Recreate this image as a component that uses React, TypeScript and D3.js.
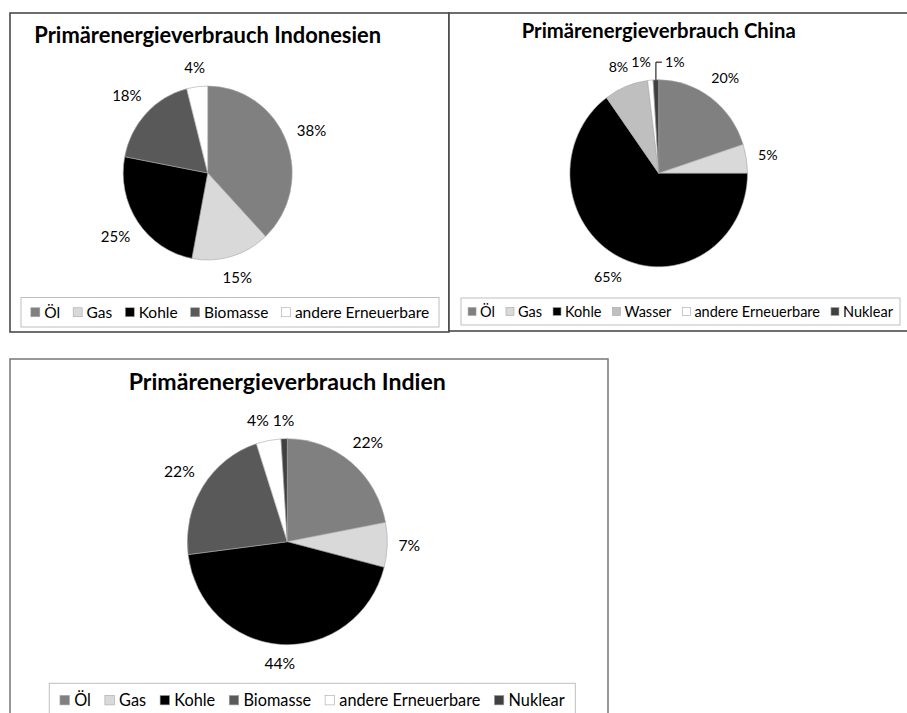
import React, { useEffect, useRef } from 'react'
import * as d3 from 'd3'

// --- data ---
const indonesiaCategories = ['Öl', 'Gas', 'Kohle', 'Biomasse', 'andere Erneuerbare']
const indonesiaValues = [38, 15, 25, 18, 4]

const chinaCategories = ['Öl', 'Gas', 'Kohle', 'Wasser', 'andere Erneuerbare', 'Nuklear']
const chinaValues = [20, 5, 65, 8, 1, 1]

const indiaCategories = ['Öl', 'Gas', 'Kohle', 'Biomasse', 'andere Erneuerbare', 'Nuklear']
const indiaValues = [22, 7, 44, 22, 4, 1]

const sliceColors: Record<string, string> = {
  'Öl': '#808080',
  Gas: '#d9d9d9',
  Kohle: '#000000',
  Biomasse: '#595959',
  Wasser: '#bfbfbf',
  'andere Erneuerbare': '#ffffff',
  Nuklear: '#404040',
}

const FONT = "Lato, 'Open Sans', sans-serif"
const LABEL_GAP = 11

// layout of each chart (boxes are [x0, y0, x1, y1])
const charts = [
  {
    title: 'Primärenergieverbrauch Indonesien',
    categories: indonesiaCategories,
    values: indonesiaValues,
    box: [10, 13, 449, 332],
    border: '#4a4a4a',
    cx: 207.7, cy: 173, rx: 84.5, ry: 87,
    titleY: 42.5, titleSize: 21.9,
    labelSize: 15,
    legend: [21, 297.5, 439, 327],
    legendSize: 15.5, swatch: 9, swatchGap: 4.4, itemGap: 13,
  },
  {
    title: 'Primärenergieverbrauch China',
    categories: chinaCategories,
    values: chinaValues,
    box: [449, 13, 912, 331],
    border: '#4a4a4a',
    cx: 658.7, cy: 173.3, rx: 88.8, ry: 93.5,
    titleY: 38.3, titleSize: 20.3,
    labelSize: 14.2,
    legend: [461, 298, 900, 325],
    legendSize: 14.5, swatch: 8, swatchGap: 4, itemGap: 11,
  },
  {
    title: 'Primärenergieverbrauch Indien',
    categories: indiaCategories,
    values: indiaValues,
    box: [10, 359, 608, 725],
    border: '#7f7f7f',
    cx: 287.3, cy: 541.7, rx: 100, ry: 103,
    titleY: 390, titleSize: 23.1,
    labelSize: 15.7,
    legend: [49.3, 683.3, 575.3, 717],
    legendSize: 16.3, swatch: 9.5, swatchGap: 4.7, itemGap: 14,
  },
]

function drawChart(svg: any, c: any) {
  const g = svg.append('g')
  const [x0, y0, x1, y1] = c.box

  g.append('rect')
    .attr('x', x0).attr('y', y0)
    .attr('width', x1 - x0).attr('height', y1 - y0)
    .attr('fill', '#fff')
    .attr('stroke', c.border)
    .attr('stroke-width', 1.6)

  g.append('text')
    .attr('x', c.cx).attr('y', c.titleY)
    .attr('text-anchor', 'middle')
    .attr('font-family', FONT)
    .attr('font-weight', 700)
    .attr('font-size', c.titleSize)
    .attr('fill', '#000')
    .text(c.title)

  const data = c.categories.map((name: string, i: number) => ({ name, value: c.values[i] }))
  const arcs = d3.pie<any>().sort(null).value((d: any) => d.value)(data)
  const arc = d3.arc<any>().innerRadius(0).outerRadius(c.rx)

  // pie is slightly taller than wide in the original, so squash the circle
  g.append('g')
    .attr('transform', `translate(${c.cx},${c.cy}) scale(1,${c.ry / c.rx})`)
    .selectAll('path')
    .data(arcs)
    .join('path')
    .attr('d', arc)
    .attr('fill', (d: any) => sliceColors[d.data.name])
    .attr('stroke', '#a6a6a6')
    .attr('stroke-width', 0.6)
    .attr('vector-effect', 'non-scaling-stroke')

  // data labels, outside end
  const placed: { x: number; y: number; w: number; node: any }[] = []
  arcs.forEach((a: any) => {
    const t = (a.startAngle + a.endAngle) / 2
    const ex = Math.sin(t)
    const ey = -Math.cos(t)
    const bx = c.cx + c.rx * ex
    const by = c.cy + c.ry * ey

    const txt = g.append('text')
      .attr('font-family', FONT)
      .attr('font-size', c.labelSize)
      .attr('text-anchor', 'middle')
      .attr('dy', '0.35em')
      .attr('fill', '#000')
      .text(`${a.data.value}%`)
    const w = (txt.node() as SVGTextElement).getComputedTextLength()
    const h = c.labelSize * 0.9
    const ext = Math.abs(ex) * w / 2 + Math.abs(ey) * h / 2
    let lx = bx + (LABEL_GAP + ext) * ex
    const ly = by + (LABEL_GAP + ext) * ey

    const prev = placed[placed.length - 1]
    let moved = false
    if (prev && Math.abs(ly - prev.y) < h) {
      const need = (w + prev.w) / 2 + 4
      const have = lx - prev.x
      if (have < (w + prev.w) / 4) {
        // heavy overlap: label goes right of the slice with a leader line,
        // the previous label makes room on the left
        const maxPrev = bx - 5 - prev.w / 2
        if (prev.x > maxPrev) {
          prev.x = maxPrev
          prev.node.attr('x', prev.x)
        }
        lx = bx + 9 + w / 2
        moved = true
      } else if (have < need) {
        // small overlap: nudge the previous label to the left
        prev.x -= need - have
        prev.node.attr('x', prev.x)
      }
    }
    txt.attr('x', lx).attr('y', ly)
    placed.push({ x: lx, y: ly, w, node: txt })

    if (moved) {
      g.append('path')
        .attr('d', `M${bx},${by}V${ly}H${lx - w / 2 - 3}`)
        .attr('fill', 'none')
        .attr('stroke', '#000')
        .attr('stroke-width', 1)
    }
  })

  // legend
  const [lx0, ly0, lx1, ly1] = c.legend
  g.append('rect')
    .attr('x', lx0).attr('y', ly0)
    .attr('width', lx1 - lx0).attr('height', ly1 - ly0)
    .attr('fill', '#fff')
    .attr('stroke', '#bfbfbf')
    .attr('stroke-width', 1)

  const lmid = (ly0 + ly1) / 2
  const items = c.categories.map((name: string) => {
    const t = g.append('text')
      .attr('font-family', FONT)
      .attr('font-size', c.legendSize)
      .attr('dy', '0.35em')
      .attr('fill', '#000')
      .text(name)
    return { name, t, w: (t.node() as SVGTextElement).getComputedTextLength() }
  })
  const total = d3.sum(items, (d: any) => c.swatch + c.swatchGap + d.w) + c.itemGap * (items.length - 1)
  let x = (lx0 + lx1) / 2 - total / 2
  items.forEach((it: any) => {
    g.append('rect')
      .attr('x', x).attr('y', lmid - c.swatch / 2)
      .attr('width', c.swatch).attr('height', c.swatch)
      .attr('fill', sliceColors[it.name])
      .attr('stroke', '#a6a6a6')
      .attr('stroke-width', 0.6)
    it.t.attr('x', x + c.swatch + c.swatchGap).attr('y', lmid)
    x += c.swatch + c.swatchGap + it.w + c.itemGap
  })
}

export default function App() {
  const ref = useRef<SVGSVGElement>(null)

  useEffect(() => {
    const svg = d3.select(ref.current)
    svg.selectAll('*').remove()
    charts.forEach(c => drawChart(svg, c))
  }, [])

  return (
    <svg
      ref={ref}
      width={907}
      height={713}
      style={{ position: 'absolute', left: 0, top: 0, background: '#fff' }}
    />
  )
}
